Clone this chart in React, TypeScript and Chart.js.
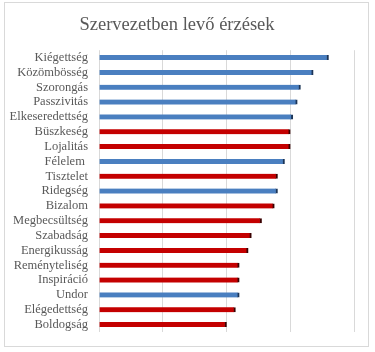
import React, { useEffect, useRef } from "react";
import { Chart, registerables } from "chart.js";

Chart.register(...registerables);

const categories = [
  "Kiégettség", "Közömbösség", "Szorongás", "Passzivitás", "Elkeseredettség",
  "Büszkeség", "Lojalitás", "Félelem ", "Tisztelet", "Ridegség", "Bizalom",
  "Megbecsültség", "Szabadság", "Energikusság", "Reményteliség", "Inspiráció",
  "Undor", "Elégedettség", "Boldogság",
];
const values = [3.6, 3.36, 3.16, 3.11, 3.04, 3.0, 3.0, 2.91, 2.8, 2.8, 2.75, 2.55, 2.39, 2.34, 2.2, 2.2, 2.2, 2.14, 2.0];
// true = negative (blue), false = positive (red)
const negative = [true, true, true, true, true, false, false, true, false, true, false, false, false, false, false, false, true, false, false];
const xTicks = [0, 1, 2, 3, 4];
const title = "Szervezetben levő érzések";

export default function App() {
  const ref = useRef<HTMLCanvasElement>(null);
  useEffect(() => {
    document.body.style.margin = "0";
    const ctx = ref.current!;
    const font = "'Liberation Serif', 'Times New Roman', serif";
    const chart = new Chart(ctx, {
      type: "bar",
      data: {
        labels: categories,
        datasets: [
          {
            label: "Érzések",
            data: values,
            backgroundColor: negative.map((n) => (n ? "#4a7fc0" : "#c40000")),
            borderColor: negative.map((n) => (n ? "#1c3557" : "#3a0000")),
            borderWidth: { right: 2, left: 0, top: 0, bottom: 0 },
            borderSkipped: false,
            barThickness: 5,
          },
        ],
      },
      options: {
        indexAxis: "y",
        responsive: false,
        animation: false,
        layout: { padding: { left: 0, right: 21, top: 0, bottom: 20 } },
        plugins: {
          legend: { display: false },
          tooltip: { enabled: false },
          title: {
            display: true,
            text: title,
            color: "#595959",
            font: { family: font, size: 18.5, weight: "normal" },
            padding: { top: 14, bottom: 14 },
          },
        },
        scales: {
          x: {
            min: xTicks[0],
            max: xTicks[xTicks.length - 1],
            afterBuildTicks: (s: any) => {
              s.ticks = xTicks.map((v) => ({ value: v }));
            },
            ticks: { display: false },
            grid: { color: "#d9d9d9", drawTicks: false, lineWidth: 1 },
            border: { display: false },
          },
          y: {
            afterFit: (s: any) => {
              s.width = 99;
            },
            ticks: {
              color: "#595959",
              font: { family: font, size: 12.5 },
              padding: 11,
              autoSkip: false,
            },
            grid: { display: false, drawTicks: false },
            border: { display: false },
          },
        },
      },
    });
    return () => chart.destroy();
  }, []);
  return (
    <div style={{ position: "relative", width: 375, height: 352 }}>
      <div
        style={{
          position: "absolute",
          left: 4,
          top: 2,
          width: 365,
          height: 345,
          border: "1px solid #d9d9d9",
          boxSizing: "border-box",
        }}
      />
      <canvas ref={ref} width={375} height={352} style={{ position: "absolute", left: 0, top: 0 }} />
    </div>
  );
}
